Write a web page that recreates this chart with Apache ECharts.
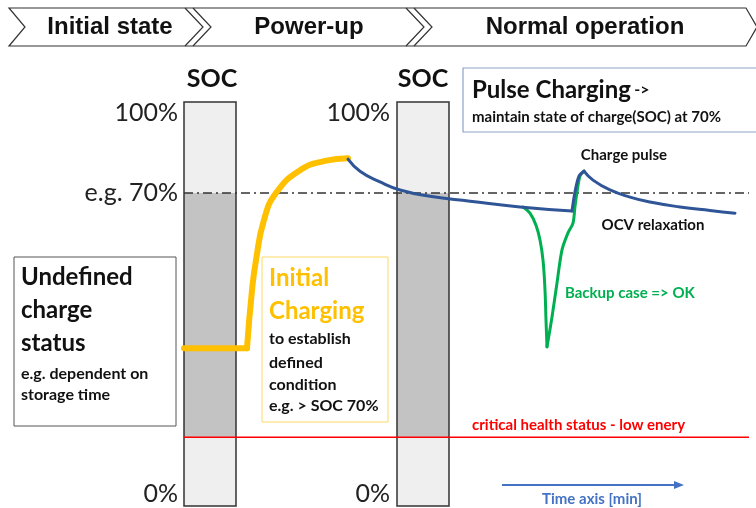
<!DOCTYPE html>
<html>
<head>
<meta charset="utf-8">
<script src="https://cdn.jsdelivr.net/npm/echarts@6/dist/echarts.min.js"></script>
<style>
  html, body { margin: 0; padding: 0; background: #fff; }
  #chart { width: 756px; height: 508px; }
</style>
</head>
<body>
<div id="chart"></div>
<script>
// phases shown in the header arrow
const phases = ["Initial state", "Power-up", "Normal operation"];

// SOC columns: [tStart, tEnd, top, darkTop, darkBottom]
const socBars = [
  [184, 236, 90.4, 70, 15.4],
  [397, 449, 90.4, 70, 15.4],
];

// reference levels (schematic SOC units)
const targetLevel = 70;
const criticalLevel = 15.4;
const levelSpan = [184, 749];

// curves, split where the trace has a corner: [time, soc]
const chargeFlat = [[184, 35.3], [247, 35.3]];
const chargeRise = [
  [247, 35.3], [252, 48.3], [256, 55.0], [264, 64.0], [276, 70.0],
  [300, 75.1], [325, 77.2], [348, 77.8],
];
const ocvDecay = [
  [348, 77.6], [360, 74.9], [380, 72.5], [400, 70.7], [430, 69.3],
  [470, 68.2], [520, 66.9], [572, 66.0],
];
const pulseRise = [[572, 66.0], [575, 70.3], [579, 73.8], [584, 74.9]];
const ocvAfterPulse = [
  [584, 74.9], [593, 72.9], [610, 70.7], [630, 69.1], [650, 68.0],
  [680, 66.9], [710, 66.1], [735, 65.5],
];
const backupDrop = [
  [523, 66.9], [530, 65.5], [536, 62.8], [540, 59.5], [543, 55.0],
  [545, 48.3], [546, 41.6], [547, 35.6],
];
const backupRecover = [
  [547, 35.6], [552, 42.3], [557, 49.9], [562, 57.3], [568, 61.1],
  [573, 63.3], [575, 67.0], [577, 70.2], [580, 73.8], [584, 74.9],
];

const chart = echarts.init(document.getElementById("chart"));

const txt = (x, y, text, font, fill, align) => ({
  type: "text",
  x, y,
  z: 100,
  style: {
    text, font, fill,
    textAlign: align || "left",
    textVerticalAlign: "middle",
  },
});

const body = "Lato, 'Open Sans', sans-serif";
const head = "bold 24px 'Liberation Sans', Arial, sans-serif";

const graphics = [
  // header arrow
  {
    type: "polygon",
    z: 50,
    shape: { points: [[9, 8], [746, 8], [757, 27], [746, 46], [9, 46], [25, 27]] },
    style: { fill: "#fff", stroke: "#333", lineWidth: 1.2 },
  },
  ...[185, 193, 406, 414].map((x) => ({
    type: "polyline",
    z: 51,
    shape: { points: [[x, 8], [x + 18, 27], [x, 46]] },
    style: { stroke: "#333", lineWidth: 1.2, fill: null },
  })),
  txt(110, 27, phases[0], head, "#111", "center"),
  txt(309, 27, phases[1], head, "#111", "center"),
  txt(585, 27, phases[2], head, "#111", "center"),

  // SOC scale labels
  txt(212, 79, "SOC", "bold 25px " + body, "#111", "center"),
  txt(423, 79, "SOC", "bold 25px " + body, "#111", "center"),
  txt(178, 113, "100%", "25px " + body, "#222", "right"),
  txt(178, 193, "e.g. 70%", "25px " + body, "#222", "right"),
  txt(178, 494, "0%", "25px " + body, "#222", "right"),
  txt(390, 113, "100%", "25px " + body, "#222", "right"),
  txt(390, 494, "0%", "25px " + body, "#222", "right"),

  // undefined charge status box
  {
    type: "rect",
    z: 20,
    shape: { x: 14, y: 257, width: 162, height: 169 },
    style: { fill: "#fff", stroke: "#555", lineWidth: 1 },
  },
  txt(21, 277, "Undefined", "bold 24px " + body, "#111"),
  txt(21, 310, "charge", "bold 24px " + body, "#111"),
  txt(21, 343, "status", "bold 24px " + body, "#111"),
  txt(21, 374, "e.g. dependent on", "bold 16px " + body, "#111"),
  txt(21, 395, "storage time", "bold 16px " + body, "#111"),

  // initial charging box
  {
    type: "rect",
    z: 20,
    shape: { x: 262, y: 257, width: 126, height: 165 },
    style: { fill: "#fff", stroke: "#FFD966", lineWidth: 1 },
  },
  txt(269, 278, "Initial", "bold 24px " + body, "#FFC000"),
  txt(269, 311, "Charging", "bold 24px " + body, "#FFC000"),
  txt(269, 339, "to establish", "bold 16px " + body, "#111"),
  txt(269, 363, "defined", "bold 16px " + body, "#111"),
  txt(269, 385, "condition", "bold 16px " + body, "#111"),
  txt(269, 406, "e.g. > SOC 70%", "bold 16px " + body, "#111"),

  // pulse charging box
  {
    type: "rect",
    z: 20,
    shape: { x: 463, y: 68, width: 300, height: 64 },
    style: { fill: "#fff", stroke: "#8EA2CB", lineWidth: 1.2 },
  },
  {
    type: "text",
    x: 472, y: 90, z: 100,
    style: {
      text: "{a|Pulse Charging} {b|->}",
      textVerticalAlign: "middle",
      rich: {
        a: { font: "bold 24px " + body, fill: "#111" },
        b: { font: "bold 16px " + body, fill: "#111" },
      },
    },
  },
  txt(472, 117, "maintain state of charge(SOC) at 70%", "bold 15px " + body, "#111"),

  // curve annotations
  txt(624, 155, "Charge pulse", "bold 15px " + body, "#111", "center"),
  txt(653, 225, "OCV relaxation", "bold 15px " + body, "#111", "center"),
  txt(565, 293, "Backup case => OK", "bold 15px " + body, "#00B050"),
  txt(472, 425, "critical health status - low enery", "bold 15px " + body, "#FF0000"),

  // time axis arrow
  {
    type: "line",
    z: 60,
    shape: { x1: 502, y1: 485, x2: 676, y2: 485 },
    style: { stroke: "#4472C4", lineWidth: 2 },
  },
  {
    type: "polygon",
    z: 60,
    shape: { points: [[684, 485], [674, 481], [674, 489]] },
    style: { fill: "#4472C4" },
  },
  txt(592, 499, "Time axis [min]", "bold 15px " + body, "#4472C4", "center"),
];

const trace = (name, data, color, width, smooth, z) => ({
  name,
  type: "line",
  z,
  showSymbol: false,
  smooth,
  data,
  lineStyle: { color, width, cap: "round", join: "round" },
});

const option = {
  animation: false,
  backgroundColor: "#fff",
  grid: { left: 0, right: 0, top: 59, bottom: 2 },
  xAxis: { type: "value", min: 0, max: 756, show: false },
  yAxis: { type: "value", min: 0, max: 100, show: false },
  graphic: graphics,
  series: [
    {
      name: "SOC",
      type: "custom",
      clip: false,
      z: 1,
      data: socBars,
      renderItem: (params, api) => {
        const x0 = api.value(0), x1 = api.value(1);
        const tl = api.coord([x0, api.value(2)]);
        const br = api.coord([x1, 0]);
        const dt = api.coord([x0, api.value(3)]);
        const db = api.coord([x1, api.value(4)]);
        const outer = { x: tl[0], y: tl[1], width: br[0] - tl[0], height: br[1] - tl[1] };
        return {
          type: "group",
          children: [
            { type: "rect", shape: outer, style: { fill: "#efefef" } },
            {
              type: "rect",
              shape: { x: dt[0], y: dt[1], width: db[0] - dt[0], height: db[1] - dt[1] },
              style: { fill: "#c3c3c3" },
            },
            { type: "rect", shape: outer, style: { fill: "none", stroke: "#333", lineWidth: 1.5 } },
          ],
        };
      },
    },
    {
      name: "target",
      type: "line",
      z: 3,
      showSymbol: false,
      data: levelSpan.map((t) => [t, targetLevel]),
      lineStyle: { color: "#333", width: 1.5, type: [9, 4, 2, 4] },
    },
    {
      name: "critical",
      type: "line",
      z: 3,
      showSymbol: false,
      data: levelSpan.map((t) => [t, criticalLevel]),
      lineStyle: { color: "#FF0000", width: 1.5 },
    },
    trace("charge flat", chargeFlat, "#FFC000", 6, false, 4),
    trace("charge rise", chargeRise, "#FFC000", 6, 0.5, 4),
    trace("backup drop", backupDrop, "#00B050", 3, 0.4, 4),
    trace("backup recover", backupRecover, "#00B050", 3, 0.3, 4),
    trace("ocv decay", ocvDecay, "#2F5597", 3, 0.5, 5),
    trace("pulse rise", pulseRise, "#2F5597", 3, 0.3, 5),
    trace("ocv after pulse", ocvAfterPulse, "#2F5597", 3, 0.5, 5),
  ],
};

chart.setOption(option);
</script>
</body>
</html>
